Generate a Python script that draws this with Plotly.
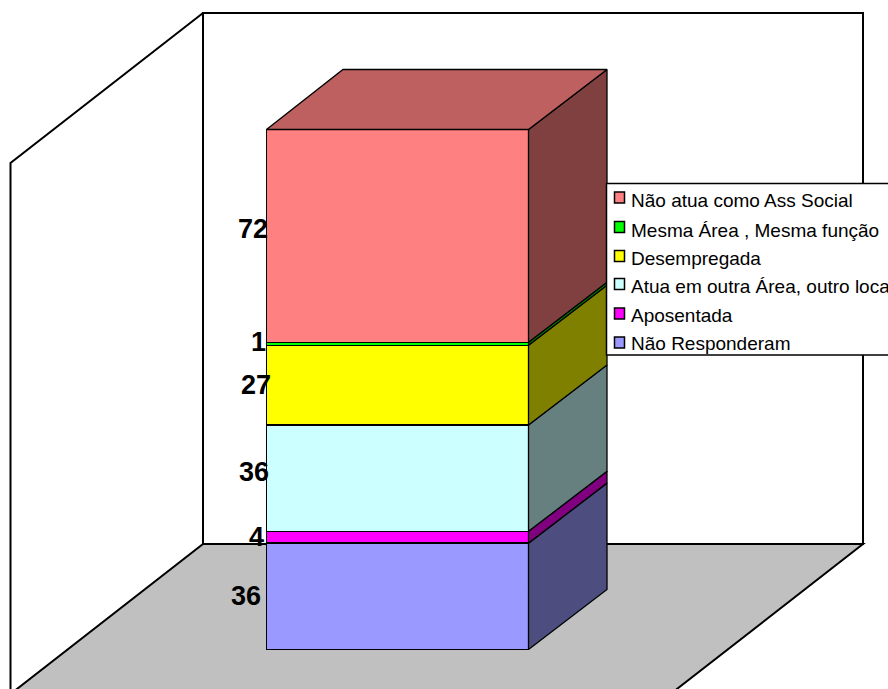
import plotly.graph_objects as go

# Stacked survey answers, bottom segment first
categories = ["Não Responderam", "Aposentada", "Atua em outra Área, outro local",
              "Desempregada", "Mesma Área , Mesma função", "Não atua como Ass Social"]
values = [36, 4, 36, 27, 1, 72]

front_colors = ["#9999FF", "#FF00FF", "#CCFFFF", "#FFFF00", "#00FF00", "#FF8080"]
side_colors = ["#4D4D80", "#800080", "#668080", "#808000", "#008000", "#804040"]
top_color = "#BF6060"

W, H = 888, 689
BAR_LEFT, BAR_RIGHT = 266.5, 528.5
BASE_Y, TOP_Y = 649.5, 129.5
PX_PER_X = BAR_RIGHT - BAR_LEFT
PX_PER_V = (BASE_Y - TOP_Y) / sum(values)
BAR_CX = (BAR_LEFT + BAR_RIGHT) / 2
EDGE = 1.3

# Depth of the extruded column, in axis units
DEPTH_X = 78.5 / PX_PER_X
DEPTH_TOP_LEFT = 76.5 / PX_PER_X
DEPTH_V = 60 / PX_PER_V

x_range = [(0 - BAR_CX) / PX_PER_X, (W - BAR_CX) / PX_PER_X]
y_range = [(BASE_Y - H) / PX_PER_V, BASE_Y / PX_PER_V]


def px(x):
    return x / W


def py(y):
    return 1 - y / H


def poly(points):
    return "M " + " L ".join(f"{px(a):.5f},{py(b):.5f}" for a, b in points) + " Z"


fig = go.Figure()

# Front faces
for name, v, c in zip(categories, values, front_colors):
    fig.add_trace(go.Bar(x=[0], y=[v], width=1, name=name,
                         marker=dict(color=c, line=dict(color="black", width=EDGE)),
                         hoverinfo="skip", showlegend=False))

# Right-hand side faces and the top cap, derived from the running totals
xl, xr = -0.5, 0.5
running = 0
for name, v, c in zip(categories, values, side_colors):
    lo, hi = running, running + v
    running = hi
    fig.add_trace(go.Scatter(
        x=[xr, xr + DEPTH_X, xr + DEPTH_X, xr, xr],
        y=[lo, lo + DEPTH_V, hi + DEPTH_V, hi, lo],
        mode="lines", fill="toself", fillcolor=c,
        line=dict(color="black", width=EDGE),
        hoverinfo="skip", showlegend=False))

fig.add_trace(go.Scatter(
    x=[xl, xl + DEPTH_TOP_LEFT, xr + DEPTH_X, xr, xl],
    y=[running, running + DEPTH_V, running + DEPTH_V, running, running],
    mode="lines", fill="toself", fillcolor=top_color,
    line=dict(color="black", width=EDGE),
    hoverinfo="skip", showlegend=False))

# Walls and floor of the chart box
shapes = [
    dict(type="path", layer="below", xref="paper", yref="paper",
         path=poly([(203, 544), (863, 544), (670.5, 694), (10.5, 694)]),
         fillcolor="#C0C0C0", line=dict(color="black", width=2)),
    dict(type="path", layer="below", xref="paper", yref="paper",
         path=poly([(203, 13), (863, 13), (863, 544), (203, 544)]),
         fillcolor="white", line=dict(color="black", width=2)),
    dict(type="path", layer="below", xref="paper", yref="paper",
         path=f"M {px(10.5)},{py(694)} L {px(10.5)},{py(163)} L {px(203)},{py(13)}",
         line=dict(color="black", width=2)),
    # Key box
    dict(type="rect", layer="above", xref="paper", yref="paper",
         x0=px(606.5), x1=px(900), y0=py(183.5), y1=py(355),
         fillcolor="white", line=dict(color="black", width=1.5)),
]

# Key entries, listed from the top of the stack downwards
key_swatch_y = [197.5, 227, 256, 284, 313.5, 342.5]
key_text_y = [200, 230, 258, 286, 315, 343.5]
annotations = []
for name, c, sy, ty in zip(categories[::-1], front_colors[::-1], key_swatch_y, key_text_y):
    shapes.append(dict(type="rect", layer="above", xref="paper", yref="paper",
                       x0=px(614.5), x1=px(624.5), y0=py(sy - 5.5), y1=py(sy + 5.5),
                       fillcolor=c, line=dict(color="black", width=1.5)))
    annotations.append(dict(xref="paper", yref="paper", x=px(628.5), y=py(ty),
                            text=name, showarrow=False, xanchor="left", yanchor="middle",
                            font=dict(family="Liberation Sans", size=19, color="black")))

# Value labels beside the front faces
label_dx = [-4, -1, 4, 6, 1, 3]
label_dy = [0, 0, -6, 0, -2, -7]
running = 0
for v, dx, dy in zip(values, label_dx, label_dy):
    annotations.append(dict(xref="x", yref="y", x=xl, y=running + v / 2,
                            text=str(v), showarrow=False, xanchor="right", yanchor="middle",
                            xshift=dx, yshift=-dy,
                            font=dict(family="Liberation Sans", size=27, color="black",
                                      weight="bold")))
    running += v

fig.update_layout(
    width=W, height=H, barmode="stack", showlegend=False,
    margin=dict(l=0, r=0, t=0, b=0),
    paper_bgcolor="white", plot_bgcolor="rgba(0,0,0,0)",
    xaxis=dict(range=x_range, visible=False, fixedrange=True),
    yaxis=dict(range=y_range, visible=False, fixedrange=True),
    shapes=shapes, annotations=annotations,
)

fig.write_html("out.html", config={"displayModeBar": False})
